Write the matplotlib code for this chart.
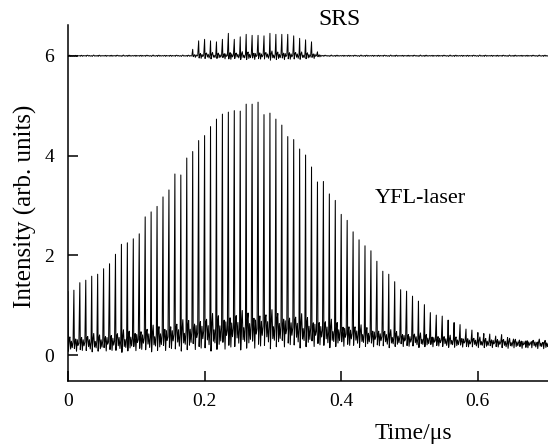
"""Pulse train of the YFL laser with the SRS trace above it."""

import numpy as np
import matplotlib

matplotlib.use("Agg")
import matplotlib.pyplot as plt  # noqa: E402

# pulse grid (mode-locked train)
pulse_period_us = 0.0087
n_pulses = 81

# peak intensity of each YFL pulse, read left to right
yfl_peaks = [
    1.27, 1.30, 1.45, 1.50, 1.58, 1.62, 1.73, 1.83, 2.02, 2.22,
    2.25, 2.33, 2.43, 2.77, 2.87, 2.98, 3.17, 3.31, 3.63, 3.61,
    3.95, 4.08, 4.30, 4.40, 4.58, 4.73, 4.83, 4.87, 4.90, 4.89,
    5.03, 5.03, 5.07, 4.82, 4.85, 4.73, 4.61, 4.38, 4.32, 4.13,
    4.01, 3.77, 3.47, 3.48, 3.23, 3.10, 2.82, 2.70, 2.47, 2.31,
    2.19, 2.09, 1.88, 1.68, 1.62, 1.47, 1.31, 1.28, 1.18, 1.08,
    1.01, 0.85, 0.80, 0.78, 0.70, 0.65, 0.61, 0.52, 0.50, 0.45,
    0.43, 0.42, 0.38, 0.41, 0.35, 0.32, 0.30, 0.28, 0.27, 0.26,
    0.25,
]

# level of the noisy floor under each pulse
yfl_floor = [
    0.22, 0.22, 0.23, 0.23, 0.24, 0.24, 0.25, 0.25, 0.26, 0.27,
    0.28, 0.29, 0.30, 0.31, 0.32, 0.33, 0.34, 0.36, 0.37, 0.38,
    0.40, 0.41, 0.42, 0.43, 0.44, 0.45, 0.46, 0.47, 0.48, 0.48,
    0.49, 0.49, 0.50, 0.50, 0.50, 0.50, 0.49, 0.49, 0.48, 0.47,
    0.46, 0.45, 0.44, 0.43, 0.42, 0.41, 0.40, 0.39, 0.38, 0.37,
    0.36, 0.35, 0.34, 0.33, 0.32, 0.32, 0.31, 0.30, 0.30, 0.29,
    0.29, 0.28, 0.28, 0.27, 0.27, 0.26, 0.26, 0.25, 0.25, 0.25,
    0.24, 0.24, 0.24, 0.23, 0.23, 0.23, 0.22, 0.22, 0.22, 0.22,
    0.21,
]

# SRS trace: flat at 6 except for a burst of spikes
srs_floor = 6.0
srs_first_pulse = 21
srs_peaks = [
    6.13, 6.30, 6.33, 6.30, 6.28, 6.33, 6.45, 6.33, 6.38, 6.43,
    6.41, 6.41, 6.40, 6.45, 6.43, 6.43, 6.43, 6.40, 6.35, 6.32,
    6.28, 6.08,
]

# ringing shapes after a spike: (fraction of period, weight of ring scale),
# cycled from pulse to pulse so the floor does not look too regular
RINGS = [
    [(0.08, -1.0), (0.20, 0.6), (0.32, 1.0), (0.45, -0.7), (0.58, 0.4),
     (0.72, -0.5), (0.86, 0.3)],
    [(0.08, -0.8), (0.18, 0.3), (0.30, 0.8), (0.42, -0.9), (0.56, 0.5),
     (0.70, -0.3), (0.85, 0.2)],
    [(0.08, -1.1), (0.22, 0.5), (0.34, 1.2), (0.48, -0.5), (0.60, 0.2),
     (0.74, -0.6), (0.88, 0.4)],
    [(0.08, -0.6), (0.19, 0.2), (0.31, 0.7), (0.44, -1.0), (0.57, 0.6),
     (0.69, -0.2), (0.84, 0.1)],
    [(0.08, -0.9), (0.21, 0.7), (0.33, 0.9), (0.47, -0.4), (0.61, 0.5),
     (0.75, -0.7), (0.89, 0.2)],
]


def pulse_trace(times, peaks, floors, ring_base, ring_gain):
    xs, ys = [], []
    for k, (t, a, b) in enumerate(zip(times, peaks, floors)):
        r = ring_base + ring_gain * (a - b)
        xs.append(t)
        ys.append(a)
        for frac, w in RINGS[(k * 3) % len(RINGS)]:
            xs.append(t + frac * pulse_period_us)
            ys.append(b + w * r)
    return np.array(xs), np.array(ys)


times = np.arange(n_pulses) * pulse_period_us
srs = np.full(n_pulses, srs_floor)
srs[srs_first_pulse:srs_first_pulse + len(srs_peaks)] = srs_peaks

plt.rcParams["font.family"] = ["Liberation Serif", "DejaVu Serif"]

fig = plt.figure(figsize=(5.48, 4.44), dpi=100)
ax = fig.add_axes([0.124, 0.142, 0.876, 0.802])

x, y = pulse_trace(times, yfl_peaks, yfl_floor, 0.08, 0.06)
ax.plot(x, y, color="black", lw=0.75)
x, y = pulse_trace(times, srs, np.full(n_pulses, srs_floor), 0.012, 0.15)
ax.plot(x, y, color="black", lw=0.7)

ax.text(0.398, 6.72, "SRS", fontsize=17, ha="center", va="center")
ax.text(0.516, 3.14, "YFL-laser", fontsize=16, ha="center", va="center")

ax.set_xlim(0, 0.703)
ax.set_ylim(-0.52, 6.62)
ax.set_xticks([0, 0.2, 0.4, 0.6])
ax.set_xticklabels(["0", "0.2", "0.4", "0.6"])
ax.set_yticks([0, 2, 4, 6])
for side in ("top", "right"):
    ax.spines[side].set_visible(False)
for side in ("left", "bottom"):
    ax.spines[side].set_linewidth(1.1)
ax.tick_params(direction="in", length=7, width=1.1, labelsize=14, pad=9)
ax.tick_params(axis="y", pad=10)

ax.set_xlabel("Time/μs", fontsize=17)
ax.xaxis.set_label_coords(0.72, -0.118)
ax.set_ylabel("Intensity (arb. units)", fontsize=18)
ax.yaxis.set_label_coords(-0.065, 0.49)

fig.savefig("out.png", dpi=100)
